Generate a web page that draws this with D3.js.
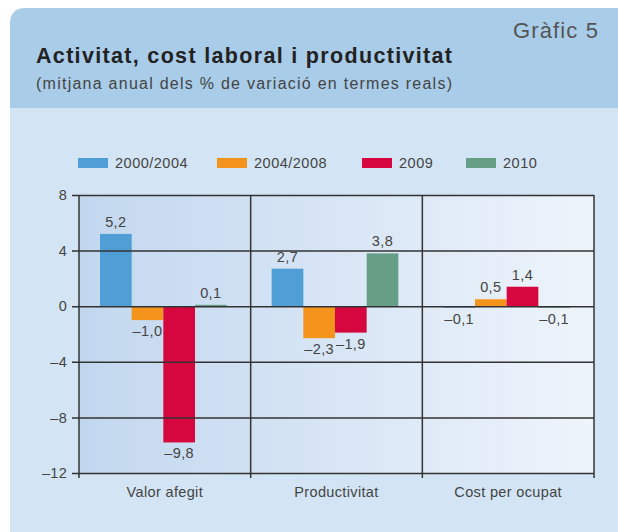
<!DOCTYPE html>
<html>
<head>
<meta charset="utf-8">
<script src="https://cdn.jsdelivr.net/npm/d3@7"></script>
<style>
  body { margin: 0; background: #ffffff; }
  text { font-family: "Liberation Sans", Arial, Helvetica, sans-serif; }
</style>
</head>
<body>
<div id="chart"></div>
<script>
// Data
var categories = ["Valor afegit", "Productivitat", "Cost per ocupat"];
var seriesNames = ["2000/2004", "2004/2008", "2009", "2010"];
var values2000_2004 = [5.2, 2.7, -0.1];
var values2004_2008 = [-1.0, -2.3, 0.5];
var values2009 = [-9.8, -1.9, 1.4];
var values2010 = [0.1, 3.8, -0.1];
var yTicks = [8, 4, 0, -4, -8, -12];

var seriesValues = [values2000_2004, values2004_2008, values2009, values2010];
var colors = ["#4f9fd6", "#f4941c", "#d6063f", "#679e86"];

// Dimensions
var svgWidth = 618;
var svgHeight = 532;
var plotLeft = 79, plotRight = 594, plotTop = 195, plotBottom = 473;

var svg = d3.select("#chart")
  .append("svg")
  .attr("width", svgWidth)
  .attr("height", svgHeight);

var defs = svg.append("defs");
var grad = defs.append("linearGradient")
  .attr("id", "plotGrad")
  .attr("x1", "0").attr("x2", "1").attr("y1", "0").attr("y2", "0");
grad.append("stop").attr("offset", "0").attr("stop-color", "#c2d7ef");
grad.append("stop").attr("offset", "1").attr("stop-color", "#eef4fb");

// Panel background with rounded top-left corner
svg.append("path")
  .attr("d", "M10,24 Q10,8 26,8 L618,8 L618,532 L10,532 Z")
  .attr("fill", "#d3e5f4");
svg.append("path")
  .attr("d", "M10,24 Q10,8 26,8 L618,8 L618,108 L10,108 Z")
  .attr("fill", "#a9cce9");

// Header texts
svg.append("text")
  .attr("x", 513).attr("y", 38)
  .attr("font-size", 22)
  .attr("textLength", 85)
  .attr("lengthAdjust", "spacing")
  .attr("fill", "#555")
  .text("Gràfic 5");

svg.append("text")
  .attr("x", 36).attr("y", 63)
  .attr("font-size", 21.5)
  .attr("font-weight", "bold")
  .attr("textLength", 416)
  .attr("lengthAdjust", "spacing")
  .attr("fill", "#222")
  .text("Activitat, cost laboral i productivitat");

svg.append("text")
  .attr("x", 36).attr("y", 89)
  .attr("font-size", 16)
  .attr("textLength", 416)
  .attr("lengthAdjust", "spacing")
  .attr("fill", "#444")
  .text("(mitjana anual dels % de variació en termes reals)");

// Legend
var legendX = [78, 217, 362, 466];
var legend = svg.selectAll(".legend")
  .data(seriesNames)
  .enter()
  .append("g")
  .attr("transform", (d, i) => `translate(${legendX[i]}, 158)`);
legend.append("rect")
  .attr("width", 30).attr("height", 10)
  .attr("fill", (d, i) => colors[i]);
legend.append("text")
  .attr("x", 37).attr("y", 10)
  .attr("font-size", 14.5)
  .attr("letter-spacing", 0.5)
  .attr("fill", "#444")
  .text(d => d);

// Scales
var x0 = d3.scaleBand()
  .domain(categories)
  .range([plotLeft, plotRight]);

var x1 = d3.scaleBand()
  .domain(d3.range(seriesNames.length))
  .range([21, x0.bandwidth() - 24]);

var y = d3.scaleLinear()
  .domain([-12, 8])
  .range([plotBottom, plotTop]);

// Plot background
svg.append("rect")
  .attr("x", plotLeft).attr("y", plotTop)
  .attr("width", plotRight - plotLeft)
  .attr("height", plotBottom - plotTop)
  .attr("fill", "url(#plotGrad)");

// Bars
var fmt = v => v.toFixed(1).replace(".", ",").replace("-", "\u2013");

var groups = svg.selectAll(".group")
  .data(categories)
  .enter()
  .append("g")
  .attr("transform", d => `translate(${x0(d)},0)`);

groups.selectAll("rect")
  .data((d, ci) => seriesValues.map((s, si) => ({ v: s[ci], si: si })))
  .enter()
  .append("rect")
  .attr("x", d => x1(d.si))
  .attr("width", x1.bandwidth())
  .attr("y", d => y(Math.max(0, d.v)))
  .attr("height", d => Math.max(1.5, Math.abs(y(d.v) - y(0))))
  .attr("fill", d => colors[d.si]);

// Grid and axes
var axisLeft = d3.axisLeft(y)
  .tickValues(yTicks)
  .tickSize(plotRight - plotLeft + 7)
  .tickFormat(d => String(d).replace("-", "\u2013"));

var gy = svg.append("g")
  .attr("transform", `translate(${plotRight},0)`)
  .call(axisLeft);
gy.select(".domain").remove();
gy.selectAll(".tick line").attr("stroke", "#333").attr("stroke-width", 1.5);
gy.selectAll(".tick text")
  .attr("x", -(plotRight - plotLeft) - 12)
  .attr("font-size", 14.5)
  .attr("letter-spacing", 0.3)
  .attr("font-family", "Liberation Sans, Arial, sans-serif")
  .attr("fill", "#444");

// Vertical dividers
var dividers = [plotLeft].concat(categories.map(c => x0(c) + x0.bandwidth()));
svg.selectAll(".divider")
  .data(dividers)
  .enter()
  .append("line")
  .attr("x1", d => d).attr("x2", d => d)
  .attr("y1", plotTop).attr("y2", plotBottom + 5)
  .attr("stroke", "#333")
  .attr("stroke-width", 1.5);

// Value labels
groups.selectAll(".val")
  .data((d, ci) => seriesValues.map((s, si) => ({ v: s[ci], si: si })))
  .enter()
  .append("text")
  .attr("x", d => x1(d.si) + x1.bandwidth() / 2)
  .attr("y", d => d.v >= 0 ? y(d.v) - 7 : y(d.v) + 16)
  .attr("text-anchor", "middle")
  .attr("font-size", 14.5)
  .attr("letter-spacing", 0.4)
  .attr("fill", "#444")
  .text(d => fmt(d.v));

// Category labels
svg.selectAll(".cat")
  .data(categories)
  .enter()
  .append("text")
  .attr("x", d => x0(d) + x0.bandwidth() / 2)
  .attr("y", 497)
  .attr("text-anchor", "middle")
  .attr("font-size", 14.5)
  .attr("letter-spacing", 0.35)
  .attr("fill", "#444")
  .text(d => d);
</script>
</body>
</html>
